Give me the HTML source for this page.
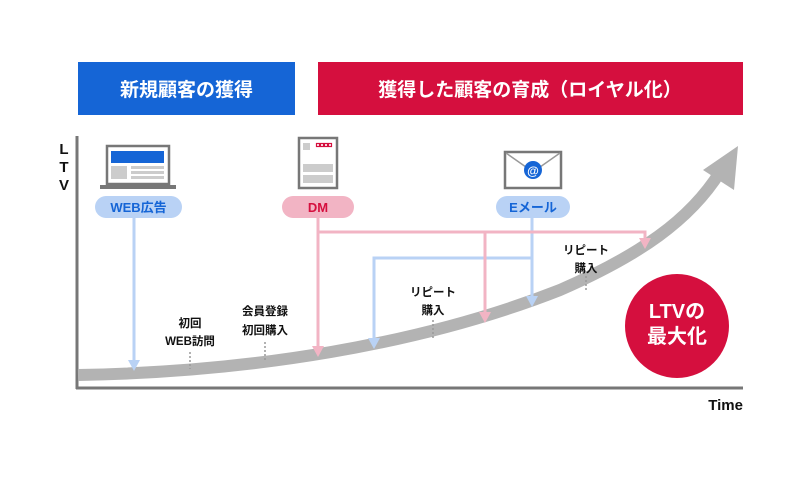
<!DOCTYPE html>
<html><head><meta charset="utf-8"><style>
body{margin:0;background:#fff}
svg text{font-family:"Liberation Sans","Noto Sans CJK JP",sans-serif;font-weight:bold}
</style></head><body>
<svg width="800" height="480" viewBox="0 0 800 480" xmlns="http://www.w3.org/2000/svg">
<rect width="800" height="480" fill="#fff"/>
<rect x="78" y="62" width="217" height="53" fill="#1565d6"/>
<text x="186.5" y="96" font-size="19" fill="#fff" text-anchor="middle">新規顧客の獲得</text>
<rect x="318" y="62" width="425" height="53" fill="#d50f3e"/>
<text x="530" y="96" font-size="19" fill="#fff" text-anchor="middle">獲得した顧客の育成（ロイヤル化）</text>
<line x1="77" y1="136" x2="77" y2="389" stroke="#777" stroke-width="3"/>
<line x1="76" y1="388" x2="743" y2="388" stroke="#777" stroke-width="3"/>
<text x="64" y="154" font-size="15" fill="#111" text-anchor="middle">L</text>
<text x="64" y="172" font-size="15" fill="#111" text-anchor="middle">T</text>
<text x="64" y="190" font-size="15" fill="#111" text-anchor="middle">V</text>
<text x="743" y="410" font-size="15" fill="#111" text-anchor="end">Time</text>
<path d="M78 375 C 250 372, 420 345, 560 290 C 640 255, 690 220, 720 172" fill="none" stroke="#b3b3b3" stroke-width="12"/>
<polygon points="738,146 734,190 703,170" fill="#b3b3b3"/>
<rect x="107" y="146" width="62" height="38" fill="#fff" stroke="#777" stroke-width="2.5"/>
<rect x="111" y="151" width="53" height="12" fill="#1565d6"/>
<rect x="111" y="166" width="16" height="13" fill="#ccc"/>
<rect x="131" y="166" width="33" height="3" fill="#ccc"/>
<rect x="131" y="171" width="33" height="3" fill="#ccc"/>
<rect x="131" y="176" width="33" height="3" fill="#ccc"/>
<rect x="100" y="185" width="76" height="4" fill="#777"/>
<rect x="299" y="138" width="38" height="50" fill="#fff" stroke="#777" stroke-width="2.5"/>
<rect x="303" y="143" width="7" height="7" fill="#ccc"/>
<g fill="none" stroke="#d50f3e" stroke-width="1.2">
<rect x="316.5" y="143.5" width="3" height="3"/><rect x="320.5" y="143.5" width="3" height="3"/>
<rect x="324.5" y="143.5" width="3" height="3"/><rect x="328.5" y="143.5" width="3" height="3"/>
</g>
<rect x="303" y="164" width="30" height="8" fill="#ccc"/>
<rect x="303" y="175" width="30" height="8" fill="#ccc"/>
<rect x="505" y="152" width="56" height="36" fill="#fff" stroke="#777" stroke-width="2.5"/>
<polyline points="506,153 533,172 560,153" fill="none" stroke="#999" stroke-width="1.5"/>
<circle cx="533" cy="170" r="9" fill="#1565d6"/>
<text x="533" y="175" font-size="12" fill="#fff" text-anchor="middle">@</text>
<rect x="95" y="196" width="87" height="22" rx="11" fill="#b9d2f5"/>
<text x="138.5" y="212" font-size="13" fill="#1565d6" text-anchor="middle">WEB広告</text>
<rect x="282" y="196" width="72" height="22" rx="11" fill="#f2b4c4"/>
<text x="318" y="212" font-size="13" fill="#d50f3e" text-anchor="middle">DM</text>
<rect x="496" y="196" width="74" height="22" rx="11" fill="#b9d2f5"/>
<text x="533" y="212" font-size="13" fill="#1565d6" text-anchor="middle">Eメール</text>
<g stroke="#b9d2f5" stroke-width="3" fill="none">
<line x1="134" y1="218" x2="134" y2="362"/>
<line x1="532" y1="218" x2="532" y2="298"/>
<polyline points="532,258 374,258 374,340"/>
</g>
<g fill="#b9d2f5">
<polygon points="128,360 140,360 134,371"/>
<polygon points="526,296 538,296 532,307"/>
<polygon points="368,338 380,338 374,349"/>
</g>
<g stroke="#f2b4c4" stroke-width="3" fill="none">
<line x1="318" y1="218" x2="318" y2="348"/>
<polyline points="318,232 645,232 645,240"/>
<line x1="485" y1="232" x2="485" y2="314"/>
</g>
<g fill="#f2b4c4">
<polygon points="312,346 324,346 318,357"/>
<polygon points="639,238 651,238 645,249"/>
<polygon points="479,312 491,312 485,323"/>
</g>
<g font-size="11.5" fill="#111" text-anchor="middle">
<text x="190" y="327">初回</text>
<text x="190" y="345">WEB訪問</text>
<text x="265" y="315">会員登録</text>
<text x="265" y="334">初回購入</text>
<text x="433" y="296">リピート</text>
<text x="433" y="314">購入</text>
<text x="586" y="254">リピート</text>
<text x="586" y="272">購入</text>
</g>
<g stroke="#999" stroke-width="1.5" stroke-dasharray="2,2">
<line x1="190" y1="352" x2="190" y2="369"/>
<line x1="265" y1="342" x2="265" y2="362"/>
<line x1="433" y1="320" x2="433" y2="339"/>
<line x1="586" y1="276" x2="586" y2="291"/>
</g>
<circle cx="677" cy="326" r="52" fill="#d50f3e"/>
<text x="677" y="318" font-size="20" fill="#fff" text-anchor="middle">LTVの</text>
<text x="677" y="343" font-size="20" fill="#fff" text-anchor="middle">最大化</text>
</svg>
</body></html>
